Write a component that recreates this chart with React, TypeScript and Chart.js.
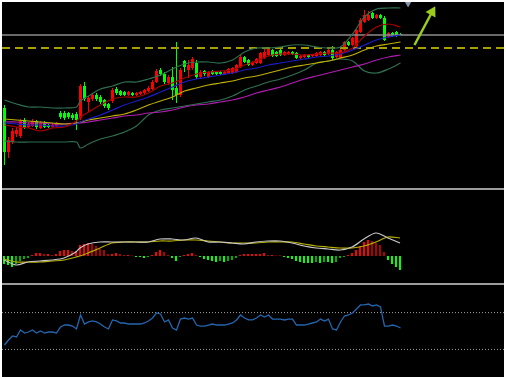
import React, { useEffect, useRef } from 'react';
import { Chart, registerables } from 'chart.js';

Chart.register(...registerables);

// ---------- Main panel: candles (index 0..99) ----------
const OPEN = [
  80, 36, 46, 54, 52, 68, 61, 62, 67, 60,
  65, 63, 61, 62, 75, 75, 75, 73, 74, 70,
  102, 86, 89, 93, 91, 88, 84, 87, 99, 97,
  96, 93, 95, 93, 94, 95, 97, 99, 106, 118,
  114, 105, 111, 100, 93, 127, 118, 120, 125, 111,
  117, 111, 117, 116, 116, 114, 115, 115, 116, 121,
  131, 128, 123, 125, 125, 130, 133, 138, 136, 138,
  133, 134, 136, 135, 130, 131, 133, 132, 132, 133,
  136, 134, 138, 131, 130, 138, 146, 143, 142, 156,
  166, 168, 175, 170, 173, 170, 151, 155, 156, 154,
];
const CLOSE = [
  36, 48, 57, 58, 67, 61, 64, 67, 61, 65,
  61, 61, 63, 64, 71, 70, 71, 70, 68, 102,
  89, 90, 93, 89, 86, 82, 80, 98, 95, 93,
  93, 96, 93, 95, 96, 98, 100, 106, 117, 114,
  106, 111, 98, 93, 118, 121, 123, 129, 111, 116,
  114, 116, 114, 114, 114, 116, 119, 120, 123, 131,
  126, 123, 126, 129, 135, 136, 139, 132, 132, 133,
  136, 136, 134, 130, 132, 133, 131, 133, 135, 136,
  133, 138, 130, 136, 138, 146, 143, 150, 158, 168,
  173, 173, 170, 173, 170, 148, 155, 152, 152, 153,
];
const HIGH = [
  83, 51, 60, 61, 69, 70, 66, 69, 68, 67,
  67, 64, 65, 66, 77, 77, 76, 75, 76, 104,
  106, 92, 95, 95, 93, 89, 85, 100, 101, 98,
  97, 97, 96, 96, 97, 99, 102, 108, 119, 120,
  116, 113, 121, 146, 120, 128, 128, 131, 128, 118,
  118, 117, 118, 117, 117, 117, 120, 121, 124, 133,
  132, 129, 127, 130, 136, 141, 141, 139, 137, 140,
  137, 137, 137, 136, 133, 134, 134, 134, 136, 137,
  137, 139, 142, 137, 139, 147, 147, 151, 159, 170,
  178, 177, 176, 174, 174, 172, 156, 156, 157, 155,
];
const LOW = [
  23, 30, 44, 51, 50, 59, 60, 61, 59, 59,
  60, 60, 60, 61, 69, 68, 69, 68, 58, 68,
  87, 76, 87, 87, 84, 80, 78, 85, 93, 92,
  92, 92, 92, 92, 93, 94, 96, 98, 105, 112,
  104, 103, 88, 85, 91, 116, 110, 118, 109, 109,
  112, 110, 113, 113, 113, 113, 114, 114, 115, 120,
  125, 122, 122, 124, 124, 129, 132, 131, 131, 132,
  132, 133, 133, 129, 129, 130, 130, 131, 131, 132,
  132, 133, 128, 130, 129, 137, 142, 142, 141, 155,
  165, 167, 169, 169, 169, 147, 150, 151, 151, 153,
];

// ---------- Indicator lines, sampled at these bar indexes ----------
const LINE_IDX = [0, 3, 6, 9, 12, 15, 18, 19, 21, 24, 27, 30, 33, 36, 39, 42, 45, 48, 51, 54, 57, 60, 63, 66, 69, 72, 75, 78, 81, 84, 87, 90, 93, 96, 99];

const MA_FAST = [63, 61, 60, 57, 60, 61, 67, 71, 76, 83, 89, 91, 91, 95, 102, 105, 110, 114, 116, 117, 118, 123, 127, 132, 134, 134, 133, 134, 135, 135, 140, 152, 161, 164, 161];
const MA_MID = [65, 64, 63, 63, 62, 62, 64, 66, 69, 73, 78, 83, 87, 91, 96, 101, 106, 109, 111, 113, 115, 118, 120, 123, 125, 127, 129, 131, 132, 134, 138, 143, 148, 151, 153];
const MA_SLOW = [69, 68, 67, 66, 65, 64, 65, 66, 68, 70, 72, 74, 78, 83, 87, 91, 97, 100, 103, 105, 107, 110, 112, 115, 118, 121, 123, 125, 127, 130, 133, 138, 142, 144, 146];
const MA_LONG = [66, 66, 65, 65, 64, 64, 65, 65, 66, 68, 70, 72, 73, 75, 76, 78, 81, 83, 84, 86, 88, 91, 95, 98, 101, 105, 109, 112, 115, 118, 121, 124, 128, 131, 133];
const BB_UPPER = [88, 84, 81, 81, 80, 80, 81, 87, 92, 99, 102, 106, 106, 109, 113, 119, 124, 126, 126, 125, 128, 136, 140, 140, 141, 143, 143, 141, 140, 141, 154, 171, 179, 180, 180];
const BB_LOWER = [47, 46, 46, 46, 46, 46, 46, 40, 44, 49, 52, 56, 62, 73, 78, 80, 82, 84, 86, 88, 92, 98, 102, 106, 109, 113, 118, 125, 127, 129, 127, 117, 115, 119, 125];

const PRICE_LINE = 153;
const DASH_LEVEL = 140;

// arrow annotation and shift marker (bar index / price)
const ARROW_X = [102.5, 106.9];
const ARROW_Y = [143, 176];
const MARKER_X = [100.9];
const MARKER_Y = [186];

// ---------- MACD panel ----------
const HIST = [
  -8, -9, -11, -8, -5, -3, -2, 1, 3, 3,
  2, 2, 1, 2, 5, 6, 6, 5, 5, 11,
  12, 13, 12, 10, 7, 6, 2, 2, 3, 2,
  1, 1, 0.5, -1, -1, -2, -1, 1, 4, 6,
  4, 1, -2, -5, -1, 1, 2, 3, 1, -1,
  -3, -4, -5, -6, -5, -6, -5, -4, -2, 1,
  2, 2, 2, 2, 2, 3, 1, 1, 0.5, 0.5,
  -1, -2, -3, -5, -6, -7, -7, -7, -6, -7,
  -6, -6, -7, -6, -2, -1, 1, 3, 6, 10,
  14, 16, 15, 13, 11, 4, -4, -8, -11, -14,
];
const MACD_MAIN = [-4, -9, -6, -5, -4, -2, 4, 8, 12, 14, 14, 14, 14, 14, 17, 17, 16, 18, 14, 14, 13, 12, 14, 15, 15, 13, 10, 8, 7, 6, 9, 17, 23, 18, 13];
const MACD_SIGNAL = [-3, -6, -6, -6, -5, -4, -1, 0, 3, 8, 13, 14, 14, 14, 15, 15, 16, 16, 15, 14, 13, 13, 13, 14, 14, 14, 12, 10, 9, 8, 8, 10, 14, 19, 18];

// ---------- RSI panel ----------
const RSI = [
  34.8, 40.2, 44.6, 43.5, 51.1, 47.8, 48.9, 51.1, 47.8, 50.0,
  47.8, 48.9, 48.9, 47.8, 54.3, 56.5, 56.5, 55.4, 52.2, 67.4,
  57.6, 59.8, 60.9, 59.8, 57.6, 54.3, 52.2, 62.0, 60.9, 58.7,
  58.7, 57.6, 57.6, 57.6, 57.6, 58.7, 60.9, 64.1, 69.6, 68.5,
  59.8, 62.0, 53.3, 51.1, 63.0, 64.1, 63.0, 64.1, 56.5, 55.4,
  55.4, 56.5, 57.6, 56.5, 56.5, 56.5, 57.6, 58.7, 62.0, 67.4,
  64.1, 62.0, 62.0, 64.1, 67.4, 65.2, 67.4, 63.0, 63.0, 63.0,
  62.0, 63.0, 63.0, 56.5, 56.5, 56.5, 57.6, 58.7, 59.8, 63.0,
  60.9, 63.0, 52.2, 51.1, 59.8, 66.3, 67.4, 69.6, 73.9, 78.3,
  78.3, 79.3, 77.2, 78.3, 76.1, 55.4, 55.4, 56.5, 55.4, 53.3,
];
const RSI_LEVELS = [70, 30];

// ---------- layout / style ----------
const W = 502;
const MAIN_H = 186;
const MACD_H = 93;
const RSI_H = 92;
const X_MIN = -0.625;
const X_MAX = 124.875;
const HX_MIN = -0.5;
const HX_MAX = 125;

const UP = '#ff0000';
const DOWN = '#00ff00';

const pts = (xs: number[], ys: number[]) => xs.map((x, k) => ({ x, y: ys[k] }));

const baseOptions = (xmin: number, xmax: number, ymin: number, ymax: number) => ({
  animation: false as const,
  responsive: false,
  maintainAspectRatio: false,
  events: [] as any[],
  layout: { padding: 0, autoPadding: false },
  plugins: { legend: { display: false }, tooltip: { enabled: false } },
  scales: {
    x: { type: 'linear' as const, min: xmin, max: xmax, display: false, offset: false, grid: { display: false } },
    y: { type: 'linear' as const, min: ymin, max: ymax, display: false, grid: { display: false } },
  },
});

const lineDs = (label: string, data: any[], color: string, width: number, order: number, extra: any = {}) => ({
  type: 'line' as const,
  label,
  data,
  borderColor: color,
  backgroundColor: color,
  borderWidth: width,
  pointRadius: 0,
  tension: 0.3,
  fill: false,
  order,
  ...extra,
});

export default function App() {
  const mainRef = useRef<HTMLCanvasElement>(null);
  const macdRef = useRef<HTMLCanvasElement>(null);
  const rsiRef = useRef<HTMLCanvasElement>(null);

  useEffect(() => {
    document.body.style.margin = '0';
    const idx = OPEN.map((_, i) => i);
    const candleColors = idx.map((i) => (CLOSE[i] >= OPEN[i] ? UP : DOWN));

    const main = new Chart(mainRef.current as HTMLCanvasElement, {
      type: 'bar',
      data: {
        datasets: [
          {
            type: 'bar',
            label: 'wick',
            data: idx.map((i) => ({ x: i, y: [LOW[i], HIGH[i]] })) as any,
            backgroundColor: candleColors,
            barThickness: 1,
            grouped: false,
            inflateAmount: 0,
            borderWidth: 0,
            order: 10,
          },
          {
            type: 'bar',
            label: 'body',
            data: idx.map((i) => ({ x: i, y: [OPEN[i], CLOSE[i]] })) as any,
            backgroundColor: candleColors,
            barThickness: 3,
            grouped: false,
            inflateAmount: 0,
            minBarLength: 1,
            borderWidth: 0,
            order: 9,
          },
          lineDs('price', pts([X_MIN, X_MAX], [PRICE_LINE, PRICE_LINE]), '#8c8c8c', 1.3, 8, { tension: 0 }),
          lineDs('level', pts([X_MIN, X_MAX], [DASH_LEVEL, DASH_LEVEL]), '#a8a000', 2, 7, { tension: 0, borderDash: [8, 5] }),
          lineDs('bbUpper', pts(LINE_IDX, BB_UPPER), '#2f7050', 1.2, 6),
          lineDs('bbLower', pts(LINE_IDX, BB_LOWER), '#2f7050', 1.2, 6),
          lineDs('maLong', pts(LINE_IDX, MA_LONG), '#b01cb0', 1.2, 5),
          lineDs('maSlow', pts(LINE_IDX, MA_SLOW), '#c0b000', 1.2, 4),
          lineDs('maMid', pts(LINE_IDX, MA_MID), '#1c1cc8', 1.2, 3),
          lineDs('maFast', pts(LINE_IDX, MA_FAST), '#a80000', 1.2, 2),
          lineDs('arrow', pts(ARROW_X, ARROW_Y), '#9ccc1c', 2.5, 1, {
            tension: 0,
            pointRadius: [0, 6.5],
            pointStyle: 'triangle',
            pointRotation: [0, 29],
            pointBorderWidth: 0,
            pointBackgroundColor: '#9ccc1c',
            clip: false,
          }),
          lineDs('marker', pts(MARKER_X, MARKER_Y), '#8494a4', 0, 0, {
            showLine: false,
            pointRadius: 5.5,
            pointStyle: 'triangle',
            pointRotation: 180,
            pointBorderWidth: 0,
            pointBackgroundColor: '#8494a4',
            clip: false,
          }),
        ] as any,
      },
      options: baseOptions(X_MIN, X_MAX, 0, 186) as any,
    });

    const histColors = HIST.map((v, i) => {
      const prev = i > 0 ? HIST[i - 1] : v;
      if (v >= 0) return v >= prev ? '#ff0000' : '#b00000';
      return v <= prev ? '#00ff00' : '#00b000';
    });

    const macd = new Chart(macdRef.current as HTMLCanvasElement, {
      type: 'bar',
      data: {
        datasets: [
          {
            type: 'bar',
            label: 'hist',
            data: idx.map((i) => ({ x: i, y: HIST[i] })) as any,
            backgroundColor: histColors,
            barThickness: 2,
            grouped: false,
            inflateAmount: 0,
            borderWidth: 0,
            order: 10,
          },
          lineDs('signal', pts(LINE_IDX, MACD_SIGNAL), '#b8b000', 1.2, 2),
          lineDs('macd', pts(LINE_IDX, MACD_MAIN), '#c8c8c8', 1.2, 1),
        ] as any,
      },
      options: baseOptions(HX_MIN, HX_MAX, -27, 66) as any,
    });

    const rsi = new Chart(rsiRef.current as HTMLCanvasElement, {
      type: 'line',
      data: {
        datasets: [
          lineDs('l70', pts([X_MIN, X_MAX], [RSI_LEVELS[0], RSI_LEVELS[0]]), '#a0a0a0', 1, 3, { tension: 0, borderDash: [1, 2] }),
          lineDs('l30', pts([X_MIN, X_MAX], [RSI_LEVELS[1], RSI_LEVELS[1]]), '#a0a0a0', 1, 3, { tension: 0, borderDash: [1, 2] }),
          lineDs('rsi', pts(idx, RSI), '#2466b0', 1.3, 1, { tension: 0 }),
        ] as any,
      },
      options: baseOptions(X_MIN, X_MAX, 0, 100) as any,
    });

    return () => {
      main.destroy();
      macd.destroy();
      rsi.destroy();
    };
  }, []);

  const divider = { width: W, height: 2, background: '#9c9c9c' };
  const cv = { display: 'block' };

  return (
    <div style={{ width: 506, height: 379, background: '#ffffff', padding: 2, boxSizing: 'border-box' }}>
      <div style={{ width: W, height: 375, background: '#000000' }}>
        <canvas ref={mainRef} width={W} height={MAIN_H} style={{ ...cv, width: W, height: MAIN_H }} />
        <div style={divider} />
        <canvas ref={macdRef} width={W} height={MACD_H} style={{ ...cv, width: W, height: MACD_H }} />
        <div style={divider} />
        <canvas ref={rsiRef} width={W} height={RSI_H} style={{ ...cv, width: W, height: RSI_H }} />
      </div>
    </div>
  );
}
